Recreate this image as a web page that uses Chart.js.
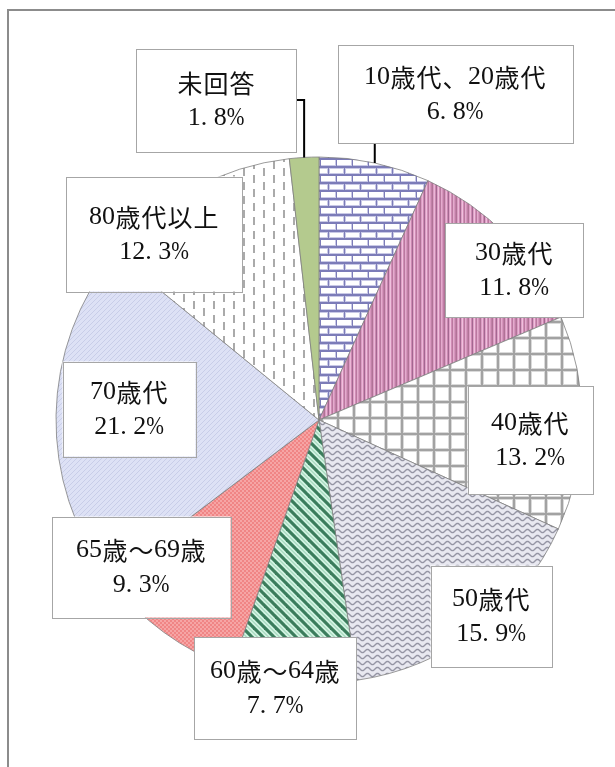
<!DOCTYPE html>
<html>
<head>
<meta charset="utf-8">
<script src="https://cdn.jsdelivr.net/npm/chart.js@4"></script>
<style>
  html, body { margin: 0; padding: 0; background: #fff; }
  body { width: 615px; height: 767px; position: relative; overflow: hidden; }
  #frame { position: absolute; left: 7px; top: 9px; width: 700px; height: 900px; border: 2px solid #8c8c8c; box-sizing: border-box; }
  #ageChart { position: absolute; left: 0; top: 0; }
</style>
</head>
<body>
<div id="frame"></div>
<canvas id="ageChart" width="615" height="767"></canvas>
<script>
const categories = ["10歳代、20歳代", "30歳代", "40歳代", "50歳代", "60歳〜64歳", "65歳〜69歳", "70歳代", "80歳代以上", "未回答"];
const percents = [6.8, 11.8, 13.2, 15.9, 7.7, 9.3, 21.2, 12.3, 1.8];

// label boxes: center offset from pie centre, box size
const labelBoxes = [
  { dx: 136, dy: -326, w: 235, h: 98, leader: "down" },
  { dx: 195, dy: -150, w: 138, h: 94 },
  { dx: 211, dy: 20, w: 125, h: 108 },
  { dx: 172, dy: 196, w: 121, h: 101 },
  { dx: -44, dy: 268, w: 162, h: 102 },
  { dx: -178, dy: 147, w: 179, h: 101 },
  { dx: -190, dy: -11, w: 133, h: 95 },
  { dx: -165, dy: -186, w: 176, h: 115 },
  { dx: -103, dy: -320, w: 160, h: 103, leader: "right" }
];

function makePattern(w, h, draw) {
  const c = document.createElement("canvas");
  c.width = w; c.height = h;
  const g = c.getContext("2d");
  draw(g, w, h);
  return document.getElementById("ageChart").getContext("2d").createPattern(c, "repeat");
}

const patterns = [
  // brick
  makePattern(16, 16, (g) => {
    g.fillStyle = "#ffffff"; g.fillRect(0, 0, 16, 16);
    g.fillStyle = "#c9c9e6";
    g.fillRect(0, 5, 16, 4); g.fillRect(0, 13, 16, 3); g.fillRect(0, 0, 1, 1);
    g.fillRect(15, 0, 3, 6); g.fillRect(7, 8, 3, 6);
    g.fillStyle = "#7c7cb8";
    g.fillRect(0, 6, 16, 2); g.fillRect(0, 14, 16, 2);
    g.fillRect(0, 0, 1, 6); g.fillRect(8, 8, 1, 6);
  }),
  // pink vertical stripes
  makePattern(12, 4, (g) => {
    const cols = ["#b07396", "#dc9cc4", "#eab7d6", "#cc88b2", "#a26890", "#df9fc6", "#efc0dd", "#d08db6", "#b9799f", "#e4abce", "#d796bd", "#c07fa7"];
    cols.forEach((col, i) => { g.fillStyle = col; g.fillRect(i, 0, 1, 4); });
  }),
  // grid
  makePattern(16, 16, (g) => {
    g.fillStyle = "#ffffff"; g.fillRect(0, 0, 16, 16);
    g.fillStyle = "#dadada"; g.fillRect(0, 0, 4, 16); g.fillRect(0, 0, 16, 4);
    g.fillStyle = "#a2a2a2"; g.fillRect(1, 0, 2, 16); g.fillRect(0, 1, 16, 2);
  }),
  // wave
  makePattern(10, 6, (g) => {
    g.fillStyle = "#e8e8f0"; g.fillRect(0, 0, 10, 6);
    g.strokeStyle = "#9595a4"; g.lineWidth = 1.4;
    g.beginPath();
    for (let x = -1; x <= 11; x += 0.5) {
      const y = 3 + 1.6 * Math.sin(x / 10 * Math.PI * 2);
      if (x === -1) g.moveTo(x, y); else g.lineTo(x, y);
    }
    g.stroke();
  }),
  // green diagonal
  makePattern(11, 11, (g) => {
    g.fillStyle = "#d2f3e2"; g.fillRect(0, 0, 11, 11);
    g.strokeStyle = "#3b7d5c"; g.lineWidth = 3.2;
    for (let k = -11; k <= 11; k += 11) {
      g.beginPath(); g.moveTo(k - 2, -2); g.lineTo(k + 13, 13); g.stroke();
    }
    g.strokeStyle = "#8cc8a8"; g.lineWidth = 1;
    for (let k = -11; k <= 11; k += 11) {
      g.beginPath(); g.moveTo(k + 3.5, -2); g.lineTo(k + 18.5, 13); g.stroke();
    }
  }),
  // salmon check
  makePattern(4, 4, (g) => {
    g.fillStyle = "#f08585"; g.fillRect(0, 0, 4, 4);
    g.fillStyle = "#f6a5a5"; g.fillRect(0, 0, 2, 2); g.fillRect(2, 2, 2, 2);
  }),
  // lavender fine diagonal
  makePattern(5, 5, (g) => {
    g.fillStyle = "#dde1f5"; g.fillRect(0, 0, 5, 5);
    g.strokeStyle = "#c8cde8"; g.lineWidth = 1;
    for (let k = -5; k <= 5; k += 5) {
      g.beginPath(); g.moveTo(k - 1, 6); g.lineTo(k + 6, -1); g.stroke();
    }
  }),
  // dashed verticals
  makePattern(20, 14, (g) => {
    g.fillStyle = "#ffffff"; g.fillRect(0, 0, 20, 14);
    g.fillStyle = "#aaaaaa";
    g.fillRect(3, 0, 2, 8);
    g.fillRect(13, 7, 2, 7); g.fillRect(13, 0, 2, 1);
  }),
  "#b4ca8e"
];

function drawLabel(ctx, lines, cx, cy) {
  const size = 26;
  const lh = 35;
  lines.forEach((text, i) => {
    // monospaced cells: half-width chars 0.5em ("%" a bit wider), others 1em
    const chars = Array.from(text);
    const cells = chars.map(ch => (ch === "%" ? size * 0.68 : ch.charCodeAt(0) < 128 ? size * 0.5 : size));
    const total = cells.reduce((a, b) => a + b, 0);
    let x = cx - total / 2;
    const y = cy + (i - (lines.length - 1) / 2) * lh + 1;
    chars.forEach((ch, j) => {
      const half = ch.charCodeAt(0) < 128;
      ctx.font = half ? `${size}px "Liberation Serif"` : `${size - 1}px "Noto Sans CJK JP"`;
      const w = ctx.measureText(ch).width;
      ctx.save();
      ctx.translate(x, y);
      if (w > cells[j]) ctx.scale(cells[j] / w, 1);
      ctx.fillText(ch, half ? 0 : (cells[j] - w) / 2, 0);
      ctx.restore();
      x += cells[j];
    });
  });
}

const labelPlugin = {
  id: "boxLabels",
  afterDatasetsDraw(chart) {
    const ctx = chart.ctx;
    const arcs = chart.getDatasetMeta(0).data;
    ctx.save();
    ctx.textBaseline = "middle";
    arcs.forEach((arc, i) => {
      const b = labelBoxes[i];
      const bx = arc.x + b.dx, by = arc.y + b.dy;
      const mid = (arc.startAngle + arc.endAngle) / 2;
      const px = arc.x + arc.outerRadius * Math.cos(mid);
      const py = arc.y + arc.outerRadius * Math.sin(mid);
      ctx.strokeStyle = "#000"; ctx.lineWidth = 2;
      if (b.leader === "down") {
        ctx.beginPath(); ctx.moveTo(px, by + b.h / 2); ctx.lineTo(px, py); ctx.stroke();
      } else if (b.leader === "right") {
        ctx.beginPath(); ctx.moveTo(bx + b.w / 2, by); ctx.lineTo(px, by); ctx.lineTo(px, py); ctx.stroke();
      }
      ctx.fillStyle = "#fff";
      ctx.fillRect(bx - b.w / 2, by - b.h / 2, b.w, b.h);
      ctx.strokeStyle = "#a6a6a6"; ctx.lineWidth = 1;
      ctx.strokeRect(Math.round(bx - b.w / 2) + 0.5, Math.round(by - b.h / 2) + 0.5, Math.round(b.w), Math.round(b.h));
      ctx.fillStyle = "#111";
      drawLabel(ctx, [categories[i], percents[i].toFixed(1) + "%"], bx, by);
    });
    ctx.restore();
  }
};

const canvas = document.getElementById("ageChart");
new Chart(canvas.getContext("2d"), {
  type: "pie",
  data: {
    labels: categories,
    datasets: [{
      data: percents,
      backgroundColor: patterns,
      borderColor: "#808080",
      borderWidth: 0.8
    }]
  },
  options: {
    responsive: false,
    animation: false,
    radius: 263,
    layout: { padding: { left: 23, right: 0, top: 80, bottom: 7 } },
    plugins: {
      legend: { display: false },
      tooltip: { enabled: false }
    }
  },
  plugins: [labelPlugin]
});
</script>
</body>
</html>
